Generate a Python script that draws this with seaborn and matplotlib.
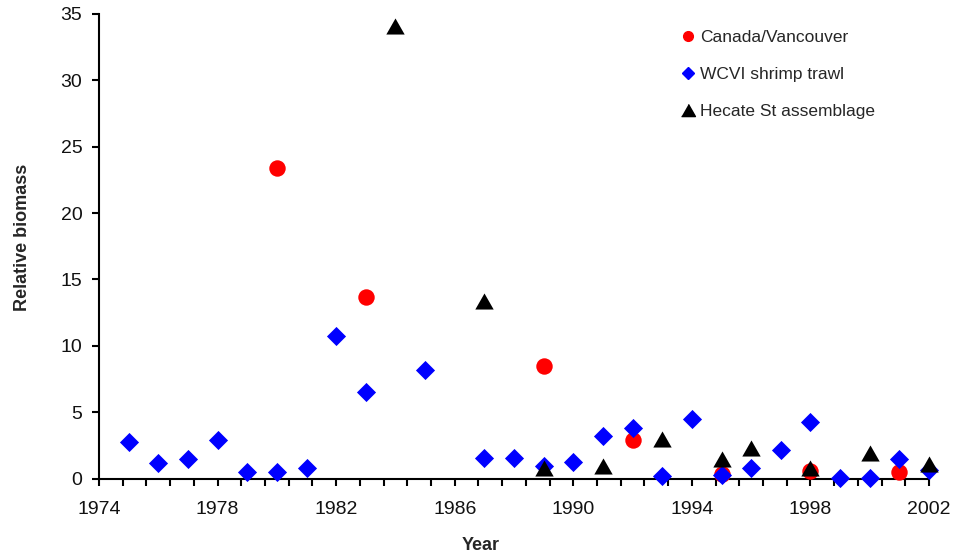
import numpy as np
import pandas as pd
import matplotlib
matplotlib.use("Agg")
import matplotlib.pyplot as plt
from matplotlib.lines import Line2D
from matplotlib.ticker import FixedLocator
import seaborn as sns

sns.set_style("white")
plt.rcParams['font.family'] = ['Liberation Sans', 'DejaVu Sans']

# ---- data ----
canada_years = [1980, 1983, 1989, 1992, 1995, 1998, 2001]
canada_vals = [23.4, 13.7, 8.5, 2.9, 0.34, 0.59, 0.51]

wcvi_years = [1975, 1976, 1977, 1978, 1979, 1980, 1981, 1982, 1983, 1985,
              1987, 1988, 1989, 1990, 1991, 1992, 1993, 1994, 1995, 1996,
              1997, 1998, 1999, 2000, 2001, 2002]
wcvi_vals = [2.77, 1.19, 1.49, 2.9, 0.51, 0.49, 0.81, 10.76, 6.52, 8.18,
             1.57, 1.52, 0.96, 1.27, 3.2, 3.78, 0.21, 4.48, 0.26, 0.81,
             2.17, 4.28, 0.06, 0.02, 1.47, 0.64]

hecate_years = [1984, 1987, 1989, 1991, 1993, 1995, 1996, 1998, 2000, 2002]
hecate_vals = [34.1, 13.4, 0.77, 0.94, 2.95, 1.45, 2.28, 0.77, 1.9, 1.09]

series_labels = ["Canada/Vancouver", "WCVI shrimp trawl", "Hecate St assemblage"]
x_ticks = [1974, 1978, 1982, 1986, 1990, 1994, 1998, 2002]
y_ticks = [0, 5, 10, 15, 20, 25, 30, 35]

df_c = pd.DataFrame({"Year": canada_years, "Value": canada_vals})
df_w = pd.DataFrame({"Year": wcvi_years, "Value": wcvi_vals})
df_h = pd.DataFrame({"Year": hecate_years, "Value": hecate_vals})

tri = [(-1, -0.875), (1, -0.875), (0, 0.875)]

fig = plt.figure(figsize=(9.56, 5.55), dpi=100)
ax = fig.add_axes([99/956, 1-478.5/555, (929-99)/956, (478.5-14)/555])

sns.scatterplot(data=df_c, x="Year", y="Value", marker="o", color="#FF0000",
                s=140, linewidth=0, ax=ax, zorder=3, clip_on=False, legend=False)
sns.scatterplot(data=df_w, x="Year", y="Value", marker="D", color="#0000FF",
                s=95, linewidth=0, ax=ax, zorder=4, clip_on=False, legend=False)
sns.scatterplot(data=df_h, x="Year", y="Value", marker=tri, color="black",
                s=175, linewidth=0, ax=ax, zorder=5, clip_on=False, legend=False)

ax.set_xlim(1974, 2002)
ax.set_ylim(0, 35)
ax.xaxis.set_major_locator(FixedLocator(x_ticks))
ax.xaxis.set_minor_locator(FixedLocator(np.linspace(1974, 2002, 36)))
ax.yaxis.set_major_locator(FixedLocator(y_ticks))
ax.set_xticklabels([str(t) for t in x_ticks])
ax.set_yticklabels([str(t) for t in y_ticks])

for side in ["top", "right"]:
    ax.spines[side].set_visible(False)
for side in ["left", "bottom"]:
    ax.spines[side].set_linewidth(1.5)
    ax.spines[side].set_color("black")

ax.tick_params(axis="both", which="both", direction="out", length=5, width=1.5,
               color="black", labelsize=14, labelcolor="#111111")
ax.tick_params(axis="x", which="both", bottom=True, pad=11)
ax.tick_params(axis="y", which="major", left=True, pad=7)
ax.tick_params(axis="y", which="minor", left=False)
ax.grid(False)

ax.set_xlabel("Year", fontsize=13, fontweight="bold")
ax.set_ylabel("Relative biomass", fontsize=13, fontweight="bold")
ax.xaxis.set_label_coords((481-99)/830, -(545-478.5)/464.5, transform=ax.transAxes)
ax.yaxis.set_label_coords(-(99-23)/830, (478.5-237)/464.5, transform=ax.transAxes)
ax.xaxis.label.set_va("center")
ax.yaxis.label.set_va("center")

handles = [
    Line2D([], [], linestyle="none", marker="o", color="#FF0000", markersize=7),
    Line2D([], [], linestyle="none", marker="D", color="#0000FF", markersize=6),
    Line2D([], [], linestyle="none", marker=tri, color="black", markersize=10),
]
fig.legend(handles, series_labels, loc="upper left",
           bbox_to_anchor=(683/956, 1-29.5/555), bbox_transform=fig.transFigure,
           frameon=False, fontsize=12.5, handlelength=0.6, handletextpad=0.4,
           labelspacing=1.26, borderpad=0, borderaxespad=0)

fig.savefig("out.png", dpi=100)
